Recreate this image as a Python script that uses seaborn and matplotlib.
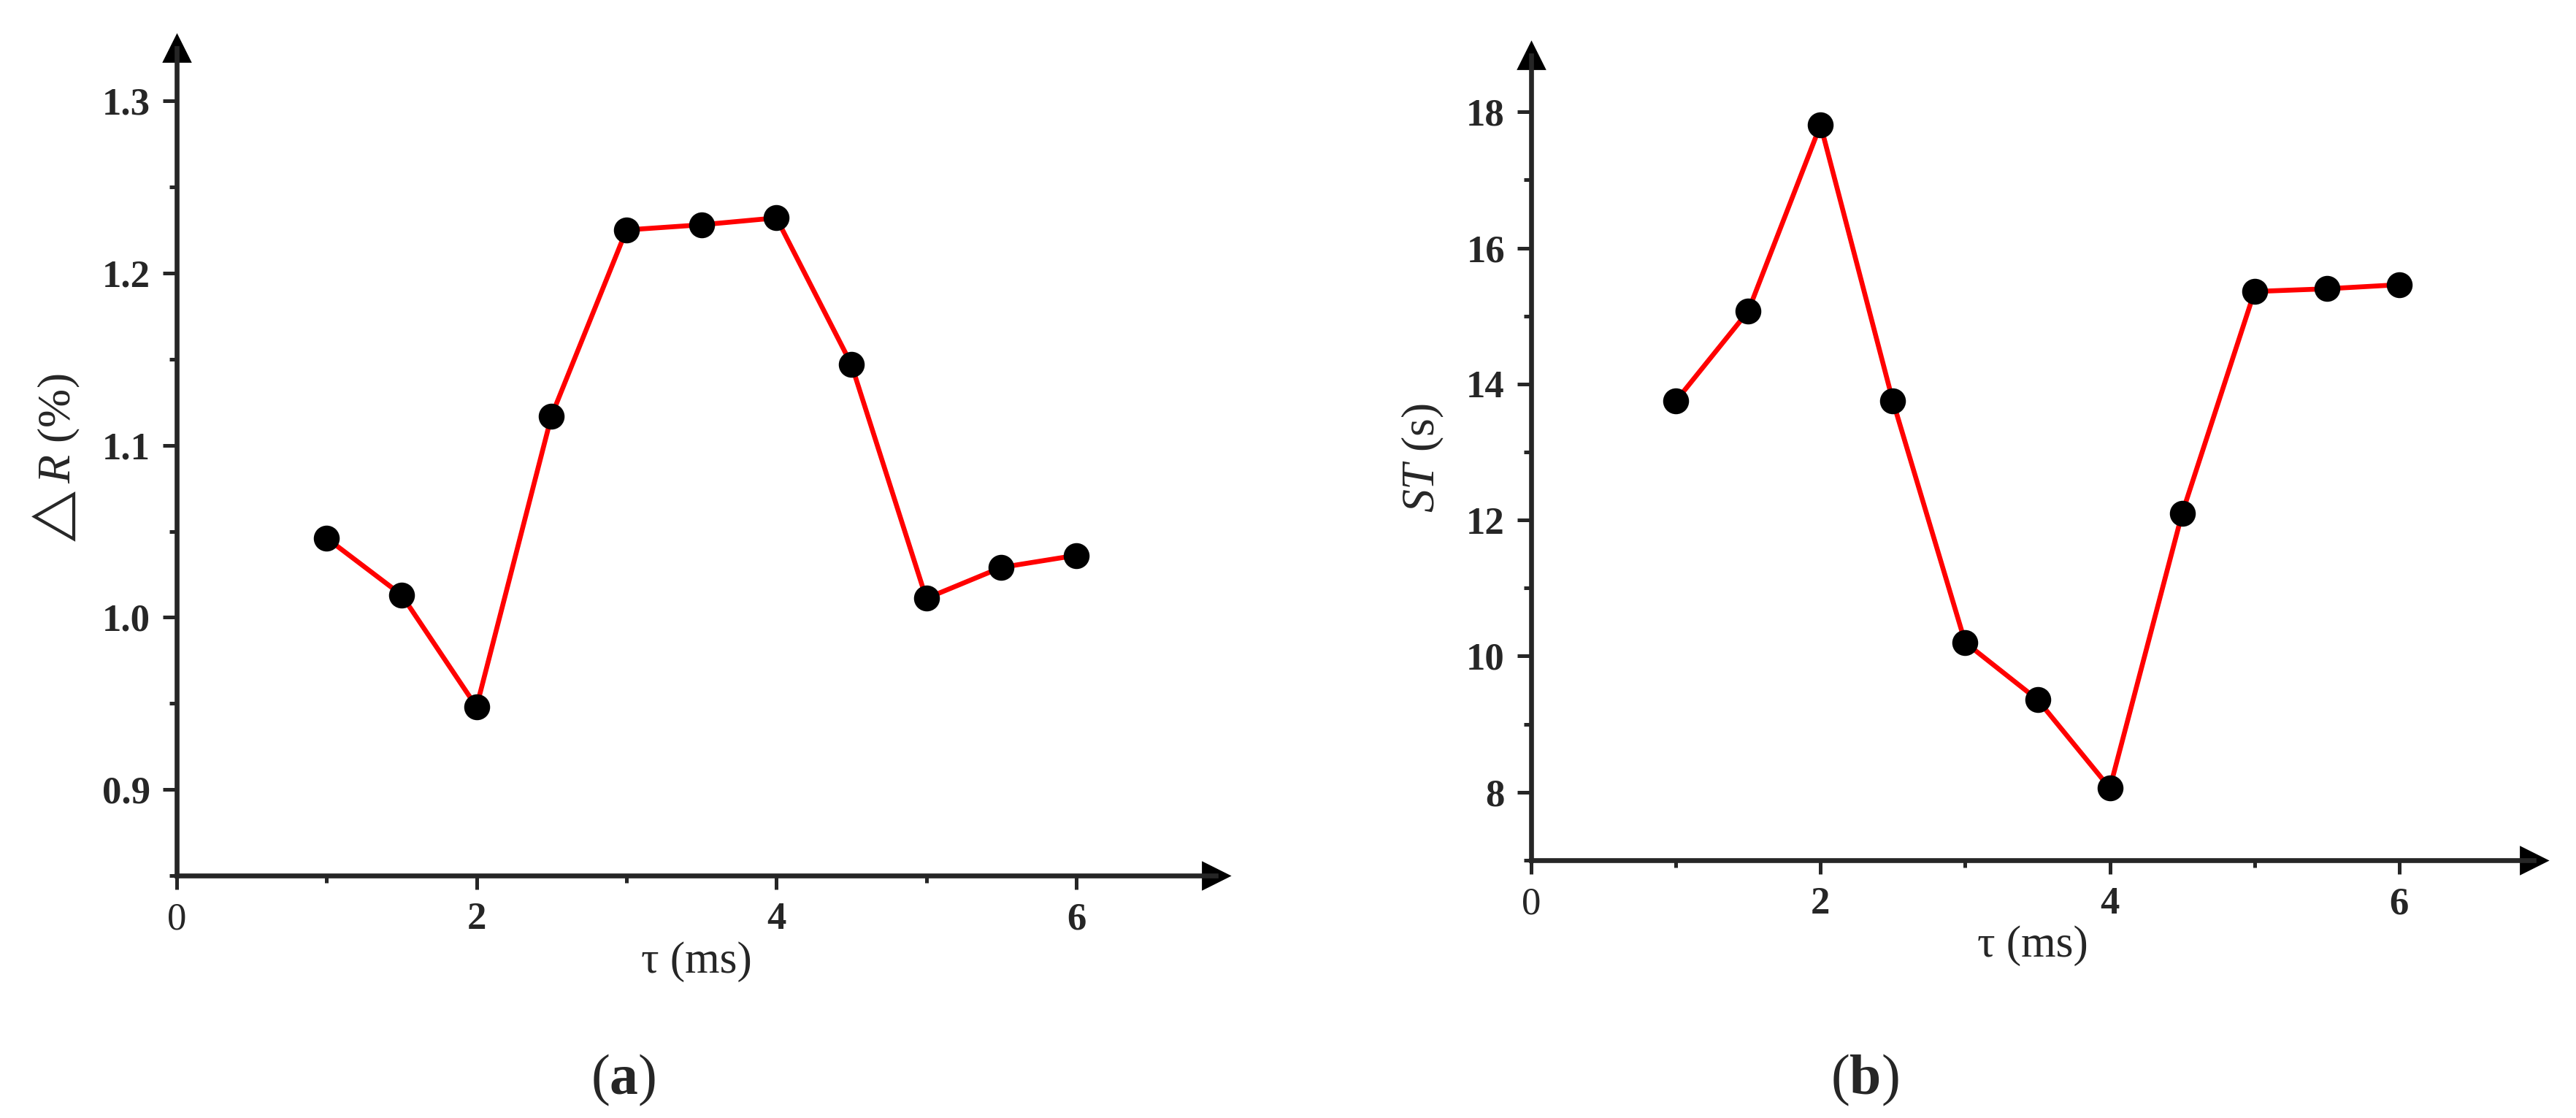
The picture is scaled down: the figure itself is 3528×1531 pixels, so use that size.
import numpy as np
import pandas as pd
import matplotlib
matplotlib.use("Agg")
import matplotlib.pyplot as plt
import seaborn as sns
from matplotlib.ticker import MultipleLocator

# Data
tau = [1.0, 1.5, 2.0, 2.5, 3.0, 3.5, 4.0, 4.5, 5.0, 5.5, 6.0]
delta_r = [1.046, 1.013, 0.948, 1.117, 1.225, 1.228, 1.232, 1.147, 1.011, 1.029, 1.036]
settle_time = [13.75, 15.07, 17.81, 13.75, 10.2, 9.36, 8.06, 12.1, 15.36, 15.40, 15.46]

x_ticks = [0, 2, 4, 6]
a_ticks = [0.9, 1.0, 1.1, 1.2, 1.3]
b_ticks = [8, 10, 12, 14, 16, 18]

sns.set_style("ticks")
plt.rcParams["font.family"] = ["Liberation Serif", "DejaVu Serif"]
plt.rcParams["mathtext.fontset"] = "custom"
plt.rcParams["mathtext.rm"] = "Liberation Serif"
plt.rcParams["mathtext.it"] = "Liberation Serif:italic"
plt.rcParams["mathtext.bf"] = "Liberation Serif:bold"
plt.rcParams["mathtext.fallback"] = "stix"

df = pd.DataFrame({"tau": tau, "dr": delta_r, "st": settle_time})

fig = plt.figure(figsize=(17.64, 7.655), dpi=200)
ax_a = fig.add_axes([0.0686, 0.2168, 0.4033, 0.740])
ax_b = fig.add_axes([0.5944, 0.2306, 0.3892, 0.7198])


def style_axis(ax, ylim, yticks, ystep, ycol, label_text, fmt):
    sns.lineplot(data=df, x="tau", y=ycol, ax=ax, color="#ff0000", linewidth=2.4,
                 zorder=2, estimator=None)
    sns.scatterplot(data=df, x="tau", y=ycol, ax=ax, color="black", s=140,
                    edgecolor="black", zorder=3)
    ax.set_xlim(0, 6.93)
    ax.set_ylim(*ylim)
    ax.set_xticks(x_ticks)
    ax.xaxis.set_minor_locator(MultipleLocator(1))
    ax.set_yticks(yticks)
    ax.set_yticklabels([fmt.format(v) for v in yticks])
    ax.yaxis.set_minor_locator(MultipleLocator(ystep))
    for side in ["top", "right"]:
        ax.spines[side].set_visible(False)
    for side in ["left", "bottom"]:
        ax.spines[side].set_linewidth(2.4)
    ax.tick_params(which="major", length=7, width=1.8, labelsize=19, pad=6)
    ax.tick_params(which="minor", length=3.5, width=1.8)
    for lbl in ax.get_xticklabels()[1:] + ax.get_yticklabels():
        lbl.set_fontweight("bold")
    ax.set_xlabel("τ (ms)", fontsize=22, labelpad=2)
    ax.set_ylabel(label_text, fontsize=23, labelpad=10)
    # arrow heads at the axis ends
    ax.plot(1, 0, ">k", transform=ax.transAxes, clip_on=False, ms=13)
    ax.plot(0, 1, "^k", transform=ax.transAxes, clip_on=False, ms=13)


style_axis(ax_a, (0.85, 1.3305), a_ticks, 0.05, "dr", r"$\triangle R$ (%)", "{:.1f}")
style_axis(ax_b, (7, 18.83), b_ticks, 1, "st", "$ST$ (s)", "{:d}")

fig.text(0.242, 0.034, r"($\mathbf{a}$)", fontsize=28, ha="center", va="center")
fig.text(0.724, 0.034, r"($\mathbf{b}$)", fontsize=28, ha="center", va="center")

fig.savefig("out.png", dpi=200)
